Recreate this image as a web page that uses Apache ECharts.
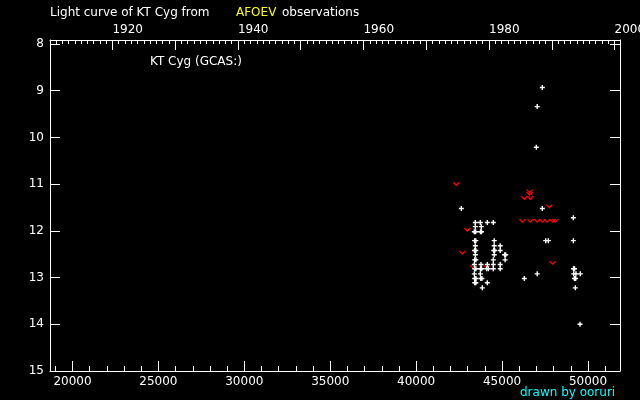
<!DOCTYPE html>
<html>
<head>
<meta charset="utf-8">
<script src="https://cdn.jsdelivr.net/npm/echarts@6/dist/echarts.min.js"></script>
<style>
html,body{margin:0;padding:0;background:#000;}
#c{width:640px;height:400px;}
</style>
</head>
<body>
<div id="c"></div>
<script>
// JD - 2400000 range and ticks
var jdMin = 18691, jdMax = 51863;
var jdMajorTicks = [20000, 25000, 30000, 35000, 40000, 45000, 50000];
var jdMinorTicks = [19000,21000,22000,23000,24000,26000,27000,28000,29000,31000,32000,33000,34000,
  36000,37000,38000,39000,41000,42000,43000,44000,46000,47000,48000,49000,51000];
var yearLabels = [1920, 1940, 1960, 1980, 2000];
var yearMajorTicks = [1920, 1930, 1940, 1950, 1960, 1970, 1980, 1990, 2000];
var yearFirst = 1911, yearLast = 2000;
var magMin = 7.914, magMax = 15;
var magTicks = [8, 9, 10, 11, 12, 13, 14, 15];

// visual observations [JD-2400000, mag]
var visualObs = [
  [47342, 8.93], [47045, 9.34], [46993, 10.21],
  [42628, 11.52],
  [43443, 11.82], [43734, 11.82], [44141, 11.82], [44491, 11.82],
  [43443, 11.91], [43792, 11.91],
  [43385, 12.02], [43460, 12.02], [43745, 12.02], [43805, 12.02],
  [43400, 12.21], [43470, 12.21], [44543, 12.21],
  [43443, 12.32], [44543, 12.32], [44892, 12.32],
  [43400, 12.42], [43470, 12.42], [44515, 12.42], [44570, 12.42], [44892, 12.42],
  [43443, 12.51], [44543, 12.51], [45150, 12.51], [45210, 12.51],
  [43410, 12.62], [43475, 12.62], [44491, 12.62], [45177, 12.62],
  [43385, 12.72], [43775, 12.72], [44141, 12.72], [44491, 12.72], [44892, 12.72],
  [43410, 12.81], [43475, 12.81], [43745, 12.81], [43805, 12.81], [44106, 12.81], [44200, 12.81], [44491, 12.81], [44892, 12.81],
  [43385, 12.92], [43734, 12.92],
  [43410, 13.02], [43475, 13.02], [43765, 13.02], [43825, 13.02],
  [43410, 13.11], [43475, 13.11], [44141, 13.11],
  [43850, 13.22],
  [47342, 11.52], [49147, 11.72],
  [47540, 12.21], [47692, 12.21], [49147, 12.21],
  [49160, 12.81], [49215, 12.81],
  [47045, 12.92], [49170, 12.92], [49300, 12.92], [49554, 12.92],
  [46295, 13.02], [49215, 13.02], [49280, 13.02],
  [49263, 13.22],
  [49537, 14.0]
];

// "fainter than" observations [JD-2400000, mag]
var fainterObs = [
  [42337, 10.99], [42977, 11.97], [42686, 12.46], [43327, 12.77], [44106, 12.77],
  [46609, 11.15], [46609, 11.20],
  [46295, 11.29], [46644, 11.29],
  [47750, 11.47],
  [46178, 11.78], [46644, 11.78], [47045, 11.78], [47342, 11.78], [47616, 11.78], [47936, 11.78], [48099, 11.78],
  [47936, 12.68]
];

function yearToJD(y) { return 51544.5 + (y - 2000) * 365.25; }
function jdToYear(v) { return Math.round((v - 51544.5) / 365.25 + 2000); }

var yearMinor = [];
for (var yy = yearFirst; yy <= yearLast; yy++) yearMinor.push(yearToJD(yy));

var FONT = 'DejaVu Sans';
var white = '#ffffff';

var chart = echarts.init(document.getElementById('c'), null, {renderer: 'canvas'});
var option = {
  backgroundColor: '#000000',
  animation: false,
  grid: {left: 50, right: 20, top: 40, bottom: 29, containLabel: false, outerBoundsMode: 'none'},
  xAxis: [
    {
      type: 'value', min: jdMin, max: jdMax, position: 'bottom',
      axisLine: {show: true, onZero: false, lineStyle: {color: white, width: 1}},
      axisTick: {show: true, inside: true, length: 10, customValues: jdMajorTicks, lineStyle: {color: white}},
      axisLabel: {show: true, customValues: jdMajorTicks, color: white, fontFamily: FONT, fontSize: 12, margin: 5,
        formatter: function (v) { return String(v); }},
      splitLine: {show: false}
    },
    {
      type: 'value', min: jdMin, max: jdMax, position: 'bottom',
      axisLine: {show: false, onZero: false},
      axisTick: {show: true, inside: true, length: 5, customValues: jdMinorTicks, lineStyle: {color: white}},
      axisLabel: {show: false},
      splitLine: {show: false}
    },
    {
      type: 'value', min: jdMin, max: jdMax, position: 'top',
      axisLine: {show: true, onZero: false, lineStyle: {color: white, width: 1}},
      axisTick: {show: true, inside: true, length: 10, customValues: yearMajorTicks.map(yearToJD), lineStyle: {color: white}},
      axisLabel: {show: true, customValues: yearLabels.map(yearToJD), color: white, fontFamily: FONT, fontSize: 12, margin: 4,
        align: 'left', formatter: function (v) { return String(jdToYear(v)); }},
      splitLine: {show: false}
    },
    {
      type: 'value', min: jdMin, max: jdMax, position: 'top',
      axisLine: {show: false, onZero: false},
      axisTick: {show: true, inside: true, length: 4, customValues: yearMinor, lineStyle: {color: white}},
      axisLabel: {show: false},
      splitLine: {show: false}
    }
  ],
  yAxis: [
    {
      type: 'value', min: magMin, max: magMax, inverse: true, position: 'left',
      axisLine: {show: true, onZero: false, lineStyle: {color: white, width: 1}},
      axisTick: {show: true, inside: true, length: 10, customValues: magTicks, lineStyle: {color: white}},
      axisLabel: {show: true, customValues: magTicks, color: white, fontFamily: FONT, fontSize: 12, margin: 6},
      splitLine: {show: false}
    },
    {
      type: 'value', min: magMin, max: magMax, inverse: true, position: 'right',
      axisLine: {show: true, onZero: false, lineStyle: {color: white, width: 1}},
      axisTick: {show: true, inside: true, length: 10, customValues: magTicks, lineStyle: {color: white}},
      axisLabel: {show: false},
      splitLine: {show: false}
    }
  ],
  series: [
    {
      type: 'scatter', xAxisIndex: 0, yAxisIndex: 0,
      data: fainterObs,
      symbol: 'path://M0,0L3,3L6,0',
      symbolSize: [6, 3],
      itemStyle: {color: 'rgba(0,0,0,0)', borderColor: '#ff0000', borderWidth: 1.2, opacity: 1},
      silent: true
    },
    {
      type: 'scatter', xAxisIndex: 0, yAxisIndex: 0,
      data: visualObs,
      symbol: 'path://M1.8,0H3.2V5H1.8Z M0,1.8H5V3.2H0Z',
      symbolSize: 5,
      itemStyle: {color: white, opacity: 1},
      silent: true
    }
  ],
  graphic: [
    {type: 'text', left: 50, top: 7, style: {text: 'Light curve of KT Cyg from', fill: white, font: '12px "DejaVu Sans"'}},
    {type: 'text', left: 236, top: 7, style: {text: 'AFOEV', fill: '#ffff00', font: '12px "DejaVu Sans"'}},
    {type: 'text', left: 282, top: 7, style: {text: 'observations', fill: white, font: '12px "DejaVu Sans"'}},
    {type: 'text', left: 150, top: 56, style: {text: 'KT Cyg (GCAS:)', fill: white, font: '12px "DejaVu Sans"'}},
    {type: 'text', left: 520, top: 387, style: {text: 'drawn by ooruri', fill: '#00ffff', font: '12px "DejaVu Sans"'}}
  ]
};
chart.setOption(option);
</script>
</body>
</html>
